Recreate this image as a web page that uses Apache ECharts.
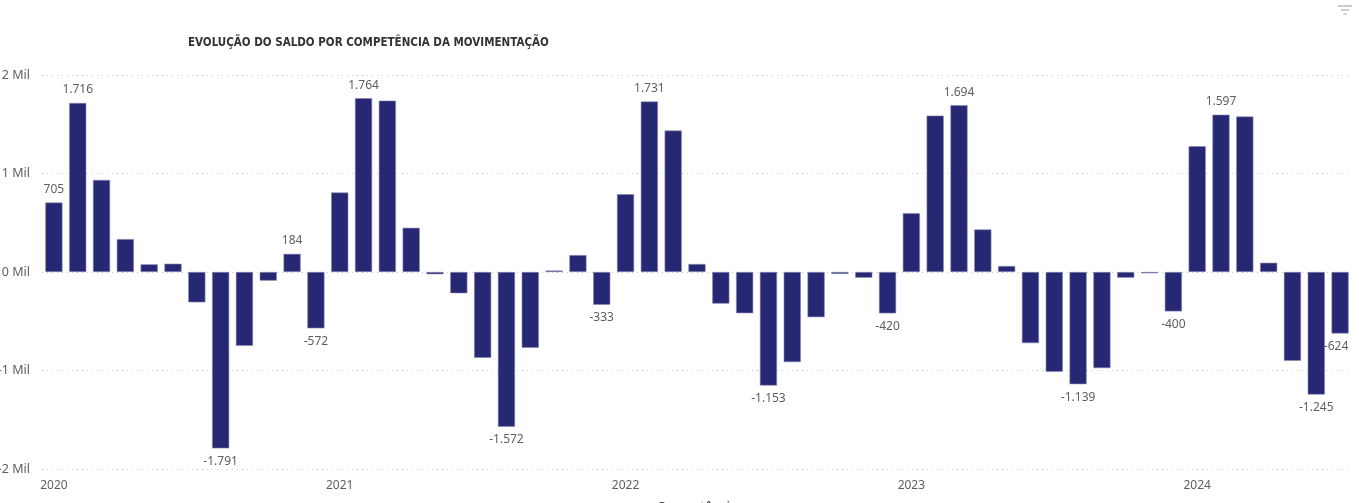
<!DOCTYPE html>
<html>
<head>
<meta charset="utf-8">
<script src="https://cdn.jsdelivr.net/npm/echarts@6/dist/echarts.min.js"></script>
<style>
html,body{margin:0;padding:0;background:#fff;}
#c{width:1359px;height:503px;}
</style>
</head>
<body>
<div id="c"></div>
<script>
const years = [2020, 2021, 2022, 2023, 2024];
const saldo2020 = [705, 1716, 935, 334, 78, 84, -308, -1791, -750, -88, 184, -572];
const saldo2021 = [807, 1764, 1740, 449, -23, -216, -871, -1572, -770, 15, 172, -333];
const saldo2022 = [790, 1731, 1436, 81, -321, -419, -1153, -915, -459, -20, -58, -420];
const saldo2023 = [598, 1588, 1694, 432, 61, -722, -1013, -1139, -976, -58, -13, -400];
const saldo2024 = [1277, 1597, 1578, 94, -902, -1245, -624];
const labelledMonths = ['2020-01','2020-02','2020-08','2020-11','2020-12','2021-02','2021-08','2021-12',
  '2022-02','2022-07','2022-12','2023-03','2023-08','2023-12','2024-02','2024-06','2024-07'];
const yTicks = [-2000, -1000, 0, 1000, 2000];

const allYears = [saldo2020, saldo2021, saldo2022, saldo2023, saldo2024];
const categories = [];
const values = [];
allYears.forEach((arr, yi) => {
  arr.forEach((v, mi) => {
    categories.push(years[yi] + '-' + String(mi + 1).padStart(2, '0'));
    values.push(v);
  });
});
const fmt = v => v.toLocaleString('pt-BR');
const seriesData = values.map((v, i) => {
  const show = labelledMonths.indexOf(categories[i]) >= 0;
  const item = { value: v, label: { show: show, position: v >= 0 ? 'top' : 'bottom' } };
  if (categories[i] === '2024-07') item.label.offset = [-4, 0];
  return item;
});

const chart = echarts.init(document.getElementById('c'));
chart.setOption({
  animation: false,
  backgroundColor: '#fff',
  title: {
    text: 'EVOLUÇÃO DO SALDO POR COMPETÊNCIA DA MOVIMENTAÇÃO',
    left: 183, top: 32,
    textStyle: { fontFamily: 'DejaVu Sans Condensed', fontSize: 11.5, fontWeight: 'bold', color: '#333' }
  },
  grid: { left: 42, right: 7, top: 75, bottom: 34, containLabel: false, outerBoundsMode: 'none' },
  xAxis: {
    type: 'category',
    data: categories,
    name: 'Competência',
    nameLocation: 'middle',
    nameGap: 31.5,
    nameTextStyle: { fontFamily: 'Noto Sans', fontSize: 13, color: '#333' },
    axisLine: { show: false },
    axisTick: { show: false },
    axisLabel: {
      interval: (idx, val) => val.endsWith('-01'),
      formatter: val => val.slice(0, 4),
      fontFamily: 'Noto Sans', fontSize: 12, color: '#605E5C', margin: 11
    }
  },
  yAxis: {
    type: 'value',
    min: yTicks[0], max: yTicks[yTicks.length - 1], interval: 1000,
    axisLine: { show: false },
    axisTick: { show: false },
    axisLabel: {
      formatter: v => (v / 1000) + ' Mil',
      fontFamily: 'Noto Sans', fontSize: 12.5, color: '#605E5C', margin: 12
    },
    splitLine: { lineStyle: { type: [1, 4], color: '#c8c8c8', width: 1 } }
  },
  series: [{
    type: 'bar',
    data: seriesData,
    barCategoryGap: '28%',
    itemStyle: { color: '#262873', borderColor: '#8889b0', borderWidth: 0.6 },
    label: {
      formatter: p => fmt(p.value),
      fontFamily: 'Noto Sans', fontSize: 12, color: '#605E5C', distance: 7
    }
  }],
  graphic: [
    { type: 'line', shape: { x1: 1338, y1: 6, x2: 1352, y2: 6 }, style: { stroke: '#999', lineWidth: 1 } },
    { type: 'line', shape: { x1: 1341, y1: 10, x2: 1349, y2: 10 }, style: { stroke: '#999', lineWidth: 1 } },
    { type: 'line', shape: { x1: 1343.5, y1: 14, x2: 1346.5, y2: 14 }, style: { stroke: '#999', lineWidth: 1 } }
  ]
});
</script>
</body>
</html>
